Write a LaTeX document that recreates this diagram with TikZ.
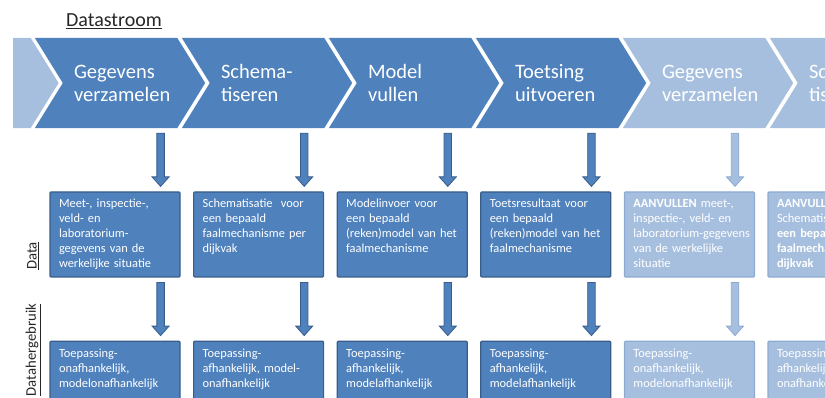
\documentclass[tikz,border=0pt]{standalone}
\usepackage{fontspec}
\setmainfont{Carlito}
\usepackage{tikz}
\usetikzlibrary{calc,positioning,backgrounds}

\definecolor{stapblauw}{HTML}{4F81BD}
\definecolor{randblauw}{HTML}{385D8A}
\definecolor{lichtblauw}{HTML}{A7BFDE}
\definecolor{lichtrand}{HTML}{8DAAD3}

% chevron round the body of step #1: notch on the left, point on the right
\newcommand{\chevronvlak}[2]{%
  \fill[#2] ($(#1.north west)+(-28pt,0pt)$) -- (#1.north east) -- ($(#1.east)+(28pt,0pt)$)
    -- (#1.south east) -- ($(#1.south west)+(-28pt,0pt)$) -- (#1.west) -- cycle;}

% block arrow from the bottom of #2 to the top of #3, 20pt left of its right side
\newcommand{\flowarrow}[3][]{%
  \path[blockarrow,#1] let \p1=($(#3.north east)+(-20pt,0pt)$), \p2=(#2.south) in
    (\x1-3.75pt,\y2-5pt) -- (\x1+3.75pt,\y2-5pt) -- (\x1+3.75pt,\y1+14.5pt)
    -- (\x1+8.5pt,\y1+14.5pt) -- (\x1,\y1+5pt) -- (\x1-8.5pt,\y1+14.5pt)
    -- (\x1-3.75pt,\y1+14.5pt) -- cycle;}

\begin{document}
\begin{tikzpicture}
[x=1pt, y=-1pt, font=\fontsize{12.4}{15}\selectfont,
% STYLES
% The chevron style is used for the steps of the data flow (body between notch and point)
chevron/.style={rectangle, minimum width=114pt, minimum height=90pt, text width=92pt,
  inner xsep=11pt, inner ysep=0pt, align=left, text=white, font=\fontsize{20.5}{23}\selectfont},
% The databox style is used for the data of each step
databox/.style={rectangle, draw=randblauw, fill=stapblauw, line width=1.2pt, rounded corners=1pt,
  text=white, text width=112pt, inner xsep=9pt, inner ysep=5pt, align=left,
  minimum width=130pt, minimum height=85pt, text height=11pt, text depth=64pt},
lichtbox/.style={databox, draw=lichtrand, fill=lichtblauw},
blockarrow/.style={fill=stapblauw, draw=randblauw, line width=0.8pt},
lichtarrow/.style={fill=lichtblauw, draw=lichtrand},
titel/.style={font=\fontsize{20}{22}\selectfont, text=black!85},
zijlabel/.style={rotate=90, font=\fontsize{14.7}{16}\selectfont, text=black!85}]

\useasboundingbox (0,0) rectangle (825,398);
\clip (0,0) rectangle (825,398);

\node[titel] (titel) at (114,21) {\underline{Datastroom}};

% Draw steps
\node[chevron] (vorige) at (-26.6,83) {};
\node[chevron] (verzamelen) at (120,83) {Gegevens\\verzamelen};
\node[chevron, right=32.6pt of verzamelen] (schematiseren) {Schema-\\tiseren};
\node[chevron, right=32.6pt of schematiseren] (vullen) {Model\\vullen};
\node[chevron, right=32.6pt of vullen] (toetsen) {Toetsing\\uitvoeren};
\node[chevron, right=32.6pt of toetsen] (verzamelen2) {Gegevens\\verzamelen};
\node[chevron, right=32.6pt of verzamelen2] (schematiseren2) {Schema-\\tiseren};

\begin{scope}[on background layer]
\begin{scope}
\clip (13,0) rectangle (100,398);
\chevronvlak{vorige}{lichtblauw}
\end{scope}
\foreach \stap/\kleur in {verzamelen/stapblauw, schematiseren/stapblauw, vullen/stapblauw,
  toetsen/stapblauw, verzamelen2/lichtblauw, schematiseren2/lichtblauw}
  {\chevronvlak{\stap}{\kleur}}
\end{scope}

% DATA
\node[databox] (data-verzamelen) at (115,234.5) {Meet-, inspectie-,\\veld- en\\laboratorium-\\gegevens van de\\werkelijke situatie};
\node[databox, right=12.4pt of data-verzamelen] (data-schema) {Schematisatie\ \ voor\\een bepaald\\faalmechanisme per\\dijkvak};
\node[databox, right=12.4pt of data-schema] (data-model) {Modelinvoer voor\\een bepaald\\(reken)model van het\\faalmechanisme};
\node[databox, right=12.4pt of data-model] (data-toets) {Toetsresultaat voor\\een bepaald\\(reken)model van het\\faalmechanisme};
\node[lichtbox, right=12.4pt of data-toets] (data-verzamelen2) {\textbf{AANVULLEN} meet-,\\inspectie-, veld- en\\\mbox{laboratorium-gegevens}\\van de werkelijke\\situatie};
\node[lichtbox, right=12.4pt of data-verzamelen2] (data-schema2) {\textbf{AANVULLEN}\\Schematisatie voor\\\textbf{een bepaald}\\\textbf{faalmechanisme per}\\\textbf{dijkvak}};

% DATAHERGEBRUIK
\node[databox, below=63pt of data-verzamelen] (gebruik-verzamelen) {Toepassing-\\onafhankelijk,\\modelonafhankelijk};
\node[databox, right=12.4pt of gebruik-verzamelen] (gebruik-schema) {Toepassing-\\afhankelijk, model-\\onafhankelijk};
\node[databox, right=12.4pt of gebruik-schema] (gebruik-model) {Toepassing-\\afhankelijk,\\modelafhankelijk};
\node[databox, right=12.4pt of gebruik-model] (gebruik-toets) {Toepassing-\\afhankelijk,\\modelafhankelijk};
\node[lichtbox, right=12.4pt of gebruik-toets] (gebruik-verzamelen2) {Toepassing-\\onafhankelijk,\\modelonafhankelijk};
\node[lichtbox, right=12.4pt of gebruik-verzamelen2] (gebruik-schema2) {Toepassing-\\afhankelijk, model-\\onafhankelijk};

% Row labels
\node[zijlabel] (lbl-data) at (33,256) {\underline{Data}};
\node[zijlabel] (lbl-gebruik) at (33,350) {\underline{Datahergebruik}};

% Draw the links between steps and data
\flowarrow{verzamelen}{data-verzamelen}
\flowarrow{schematiseren}{data-schema}
\flowarrow{vullen}{data-model}
\flowarrow{toetsen}{data-toets}
\flowarrow[lichtarrow]{verzamelen2}{data-verzamelen2}
\flowarrow{data-verzamelen}{gebruik-verzamelen}
\flowarrow{data-schema}{gebruik-schema}
\flowarrow{data-model}{gebruik-model}
\flowarrow{data-toets}{gebruik-toets}
\flowarrow[lichtarrow]{data-verzamelen2}{gebruik-verzamelen2}

\end{tikzpicture}
\end{document}
